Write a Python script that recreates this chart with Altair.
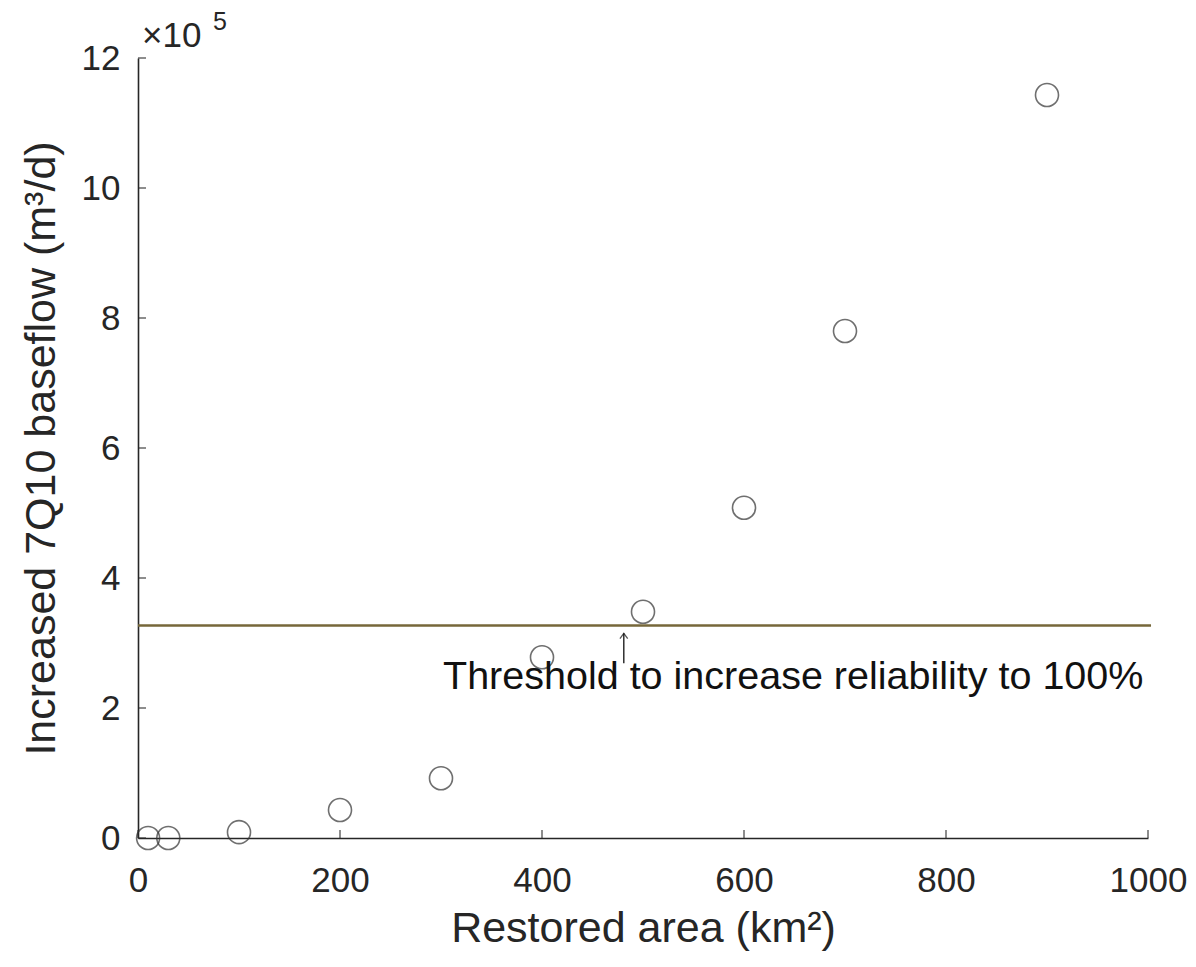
import altair as alt
import pandas as pd

# Data
area = [10, 30, 100, 200, 300, 400, 500, 600, 700, 900]
baseflow = [0, 0, 9000, 43000, 92000, 278000, 348000, 508000, 780000, 1143000]

threshold_y = [327000]
threshold_x0 = [0]
threshold_x1 = [1003]

arrow_x = [481]
arrow_y0 = [269000]
arrow_y1 = [315000]

label_x = [302]
label_y = [229000]
label_text = ["Threshold to increase reliability to 100%"]

x_ticks = [0, 200, 400, 600, 800, 1000]
y_ticks = [0, 200000, 400000, 600000, 800000, 1000000, 1200000]

FONT = "Liberation Sans"
INK = "#262626"

pts = pd.DataFrame({"area": area, "baseflow": baseflow})
thr = pd.DataFrame({"x0": threshold_x0, "x1": threshold_x1, "y": threshold_y})
arr = pd.DataFrame({"x": arrow_x, "y0": arrow_y0, "y1": arrow_y1})
lab = pd.DataFrame({"x": label_x, "y": label_y, "t": label_text})
xt = pd.DataFrame({"v": x_ticks})
yt = pd.DataFrame({"v": y_ticks})

xscale = alt.Scale(domain=[0, 1000], nice=False, zero=False)
yscale = alt.Scale(domain=[0, 1200000], nice=False, zero=False)

xaxis = alt.Axis(values=x_ticks, title="Restored area (km²)", ticks=False, tickSize=0, format="d",
                 labelPadding=25, titlePadding=9, grid=False, labelFlush=False)
yaxis = alt.Axis(values=y_ticks, title="Increased 7Q10 baseflow (m³/d)", ticks=False, tickSize=0,
                 labelPadding=18, titlePadding=18, grid=False, labelExpr="datum.value / 100000",
                 labelFlush=False)

points = alt.Chart(pts).mark_point(shape="circle", filled=False, size=530, strokeWidth=1.6,
                                   color="#333333").encode(
    x=alt.X("area:Q", scale=xscale, axis=xaxis),
    y=alt.Y("baseflow:Q", scale=yscale, axis=yaxis),
)

line = alt.Chart(thr).mark_rule(color="#76673a", strokeWidth=2.5).encode(
    x=alt.X("x0:Q", scale=xscale), x2="x1:Q", y=alt.Y("y:Q", scale=yscale)
)

shaft = alt.Chart(arr).mark_rule(color="#111111", strokeWidth=1.3).encode(
    x=alt.X("x:Q", scale=xscale), y=alt.Y("y0:Q", scale=yscale), y2="y1:Q"
)
head = alt.Chart(arr).mark_point(shape="M-1,1.4L0,0L1,1.4", filled=False, size=60,
                                 strokeWidth=1.3, color="#111111").encode(
    x=alt.X("x:Q", scale=xscale), y=alt.Y("y1:Q", scale=yscale)
)

label = alt.Chart(lab).mark_text(align="left", baseline="alphabetic", font=FONT, fontSize=39.5,
                                 color="#111111").encode(
    x=alt.X("x:Q", scale=xscale), y=alt.Y("y:Q", scale=yscale), text="t:N"
)

xticks = alt.Chart(xt).mark_tick(orient="vertical", size=8, thickness=1.5, yOffset=-4,
                                 color=INK).encode(
    x=alt.X("v:Q", scale=xscale), y=alt.datum(0, scale=yscale)
)
yticks = alt.Chart(yt).mark_tick(orient="horizontal", size=8, thickness=1.5, xOffset=4,
                                 color=INK).encode(
    y=alt.Y("v:Q", scale=yscale), x=alt.datum(0, scale=xscale)
)

exp_main = alt.Chart(pd.DataFrame({"t": ["×10"]})).mark_text(
    align="left", baseline="alphabetic", font=FONT, fontSize=35, color=INK
).encode(x=alt.value(4), y=alt.value(-11), text="t:N")
exp_sup = alt.Chart(pd.DataFrame({"t": ["5"]})).mark_text(
    align="left", baseline="alphabetic", font=FONT, fontSize=25, color=INK
).encode(x=alt.value(75), y=alt.value(-28), text="t:N")

chart = alt.layer(line, points, shaft, head, label, xticks, yticks, exp_main, exp_sup).properties(
    width=1010, height=780,
    autosize=alt.AutoSizeParams(type="none"),
    padding={"left": 138, "top": 58, "right": 48, "bottom": 129},
    background="white",
).configure_view(stroke=None).configure_axis(
    domainColor=INK, domainWidth=1.6, labelFont=FONT, labelFontSize=35, labelColor=INK,
    titleFont=FONT, titleFontSize=43, titleFontWeight="normal", titleColor=INK,
)

chart.save("out.html", embed_options={"renderer": "svg", "actions": False})
